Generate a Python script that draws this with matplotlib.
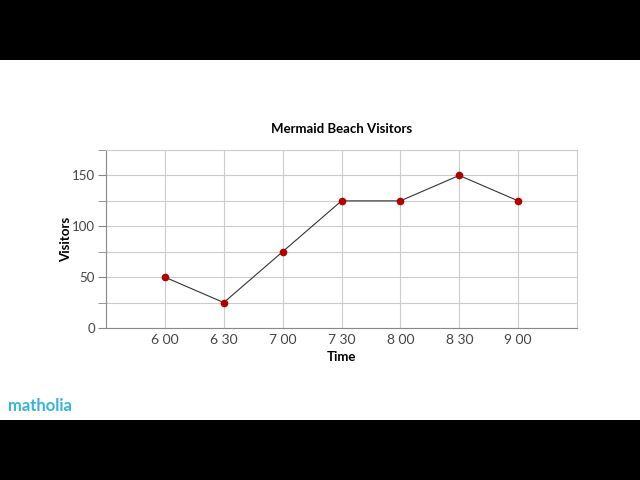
import matplotlib
matplotlib.use("Agg")
import matplotlib.pyplot as plt
from matplotlib.patches import Rectangle

# Mermaid Beach visitors data
times = ["6 00", "6 30", "7 00", "7 30", "8 00", "8 30", "9 00"]
visitors = [50, 25, 75, 125, 125, 150, 125]
y_ticks = [0, 50, 100, 150]

plt.rcParams["font.family"] = ["Lato", "DejaVu Sans"]

fig = plt.figure(figsize=(6.4, 4.8), dpi=100, facecolor="black")
# white video frame between the black bars
fig.patches.append(Rectangle((0, 60 / 480), 1, 360 / 480, transform=fig.transFigure,
                             facecolor="white", edgecolor="none", zorder=-5))

ax = fig.add_axes([106 / 640, 152 / 480, 471 / 640, 178 / 480])
ax.set_zorder(2)
ax.set_facecolor("white")

x = list(range(len(times)))
ax.plot(x, visitors, color="#333333", linewidth=0.8, zorder=3)
ax.plot(x, visitors, "o", color="#b00000", markersize=4.5, zorder=4)

ax.set_xlim(-1, len(times))
ax.set_ylim(0, 175)
ax.set_xticks(x)
ax.set_xticklabels(times)
ax.set_yticks(y_ticks)
ax.set_yticks(range(0, 176, 25), minor=True)
ax.grid(True, which="both", color="#cccccc", linewidth=0.8)
ax.set_axisbelow(True)

ax.tick_params(axis="x", which="both", length=0, labelsize=10, labelcolor="#444444", pad=4)
ax.tick_params(axis="y", which="both", length=6, color="#888888", labelsize=9.5,
               labelcolor="#444444", pad=2)
for side in ["top", "right"]:
    ax.spines[side].set_color("#cccccc")
for side in ["left", "bottom"]:
    ax.spines[side].set_color("#888888")

ax.set_title("Mermaid Beach Visitors", fontsize=9.5, fontweight="bold", pad=12)
ax.set_xlabel("Time", fontsize=9.5, fontweight="bold", labelpad=4)
ax.set_ylabel("Visitors", fontsize=9.5, fontweight="bold")
ax.yaxis.set_label_coords(-0.072, 0.5)

fig.text(8 / 640, 1 - 406 / 480, "matholia", color="#35b5d8", fontsize=12,
         fontweight="bold", va="center", ha="left", zorder=3)

fig.savefig("out.png", dpi=100, facecolor="black")
